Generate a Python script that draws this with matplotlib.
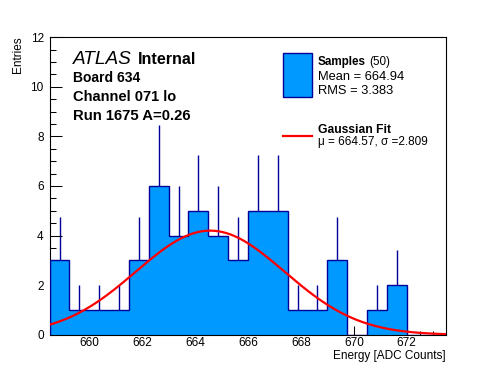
import numpy as np
import matplotlib
matplotlib.use('Agg')
import matplotlib.pyplot as plt
from matplotlib.ticker import MultipleLocator
from matplotlib.patches import Rectangle
from matplotlib.lines import Line2D

plt.rcParams['font.family'] = ['Liberation Sans', 'DejaVu Sans']

# histogram content (20 bins of 0.75 ADC counts)
bin_start = 658.5
bin_width = 0.75
counts = [3, 1, 1, 1, 3, 6, 4, 5, 4, 3, 5, 5, 1, 1, 3, 0, 1, 2, 0, 0]

# gaussian fit
fit_mu = 664.57
fit_sigma = 2.809
fit_amp = 4.2

n_samples = 50
sample_mean = 664.94
sample_rms = 3.383

fill_col = '#0099ff'
edge_col = '#000099'

counts = np.array(counts, dtype=float)
edges = bin_start + bin_width * np.arange(len(counts) + 1)
centers = 0.5 * (edges[:-1] + edges[1:])

W, H = 496, 372
fig = plt.figure(figsize=(W / 100, H / 100), dpi=100)
ax = fig.add_axes([0.1, 0.1, 0.8, 0.8])


def px(x, y):
    return x / W, 1 - y / H


# error bars (only upper half shows above the fill)
nz = counts > 0
err = np.sqrt(counts)
ax.vlines(centers[nz], (counts - err)[nz], (counts + err)[nz], color=edge_col, lw=1.0, zorder=1)
ax.stairs(counts, edges, fill=True, facecolor=fill_col, edgecolor='none', zorder=2)
ax.stairs(counts, edges, color=edge_col, lw=1.0, zorder=3)

xs = np.linspace(edges[0], edges[-1], 400)
ax.plot(xs, fit_amp * np.exp(-0.5 * ((xs - fit_mu) / fit_sigma) ** 2), color='red', lw=1.6, zorder=4)

ax.set_xlim(edges[0], edges[-1])
ax.set_ylim(0, 12)
ax.xaxis.set_major_locator(MultipleLocator(2))
ax.xaxis.set_minor_locator(MultipleLocator(0.5))
ax.yaxis.set_major_locator(MultipleLocator(2))
ax.yaxis.set_minor_locator(MultipleLocator(0.5))
ax.tick_params(which='both', direction='in', top=False, right=False, width=0.75, labelsize=8.5)
ax.tick_params(axis='x', which='major', length=6.5, pad=1.8)
ax.tick_params(axis='x', which='minor', length=3.2)
ax.tick_params(axis='y', which='major', length=8.6, pad=4.2)
ax.tick_params(axis='y', which='minor', length=4.3)
for s in ax.spines.values():
    s.set_linewidth(0.8)

fig.text(*px(446, 358.5), 'Energy [ADC Counts]', ha='right', va='baseline', fontsize=8.5)
fig.text(*px(18, 36), 'Entries', rotation=90, ha='center', va='top', fontsize=8.5)

# labels
fig.text(*px(72.7, 64), 'ATLAS', style='italic', fontsize=13.7, va='baseline')
fig.text(*px(138.3, 64), 'Internal', weight='bold', fontsize=11.6, va='baseline')
fig.text(*px(72.7, 81.5), 'Board 634', weight='bold', fontsize=10, va='baseline')
fig.text(*px(72.7, 100.7), 'Channel 071 lo', weight='bold', fontsize=10.5, va='baseline')
fig.text(*px(72.7, 119.5), 'Run 1675 A=0.26', weight='bold', fontsize=10.7, va='baseline')

# legend
x0, y0 = px(283.3, 96.7)
x1, y1 = px(311.7, 53.3)
fig.add_artist(Rectangle((x0, y0), x1 - x0, y1 - y0, transform=fig.transFigure,
                         facecolor=fill_col, edgecolor=edge_col, lw=1.0))
fig.text(*px(317.7, 65.5), 'Samples', weight='bold', fontsize=8.4, va='baseline')
fig.text(*px(369.5, 65.5), '(%d)' % n_samples, fontsize=8.4, va='baseline')
fig.text(*px(317.7, 80), 'Mean = %.2f' % sample_mean, fontsize=9.3, va='baseline')
fig.text(*px(317.7, 94), 'RMS = %.3f' % sample_rms, fontsize=9.3, va='baseline')

lx0, ly = px(283, 136)
lx1, _ = px(312, 136)
fig.add_artist(Line2D([lx0, lx1], [ly, ly], transform=fig.transFigure, color='red', lw=1.6))
fig.text(*px(317.7, 133), 'Gaussian Fit', weight='bold', fontsize=8.7, va='baseline')
fig.text(*px(317.7, 145.5), '\u03bc = %.2f, \u03c3 =%.3f' % (fit_mu, fit_sigma), fontsize=8.5, va='baseline')

fig.savefig('out.png', dpi=100)
